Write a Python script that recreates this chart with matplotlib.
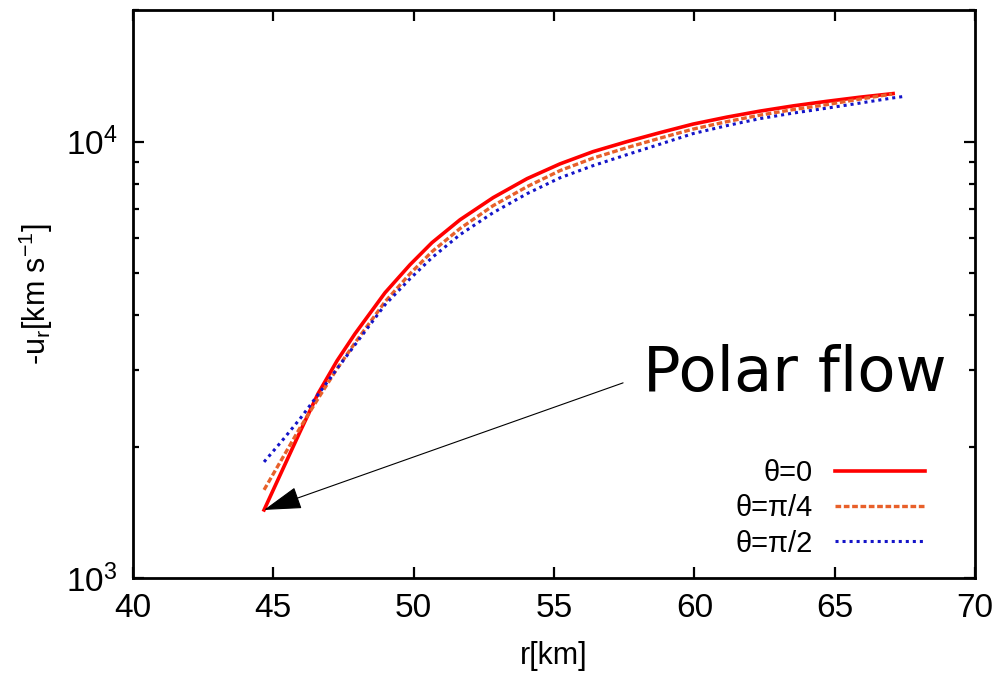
import matplotlib
matplotlib.use('Agg')
import matplotlib.pyplot as plt
from matplotlib.ticker import LogLocator, NullFormatter, MultipleLocator

plt.rcParams['font.family'] = ['Liberation Sans', 'DejaVu Sans']
plt.rcParams['mathtext.fontset'] = 'custom'
plt.rcParams['mathtext.rm'] = 'Liberation Sans'
plt.rcParams['mathtext.it'] = 'Liberation Sans'
plt.rcParams['mathtext.default'] = 'regular'

# radial infall velocity vs radius for three polar angles
r_0 = [44.67, 45.31, 45.95, 46.59, 47.27, 47.91, 48.98, 49.87, 50.65, 51.65,
       52.83, 54.04, 55.21, 56.39, 57.60, 58.78, 59.95, 61.16, 62.34, 63.52,
       64.73, 65.90, 67.08]
u_0 = [1432, 1760, 2162, 2643, 3146, 3628, 4505, 5223, 5866, 6620,
       7440, 8225, 8890, 9485, 10000, 10487, 10968, 11381, 11748, 12075,
       12372, 12642, 12885]

r_45 = [44.67, 45.31, 45.95, 46.59, 47.27, 47.91, 48.98, 49.87, 50.65, 51.65,
        52.83, 54.04, 55.21, 56.39, 57.60, 58.78, 59.95, 61.16, 62.34, 63.52,
        64.73, 65.90, 67.04]
u_45 = [1592, 1875, 2208, 2574, 3016, 3459, 4296, 4980, 5594, 6320,
        7132, 7885, 8580, 9166, 9688, 10187, 10682, 11113, 11502, 11841,
        12158, 12516, 12851]

r_90 = [44.67, 45.31, 45.95, 46.59, 47.27, 47.91, 48.98, 49.87, 50.65, 51.65,
        52.83, 54.04, 55.21, 56.39, 57.60, 58.78, 59.95, 61.16, 62.34, 63.52,
        64.73, 65.90, 67.08, 67.51]
u_90 = [1845, 2062, 2316, 2629, 3016, 3423, 4228, 4850, 5419, 6120,
        6873, 7599, 8260, 8809, 9336, 9869, 10432, 10882, 11292, 11625,
        11935, 12255, 12596, 12703]

labels = ['θ=0', 'θ=π/4', 'θ=π/2']

fig = plt.figure(figsize=(9.96, 6.84), dpi=100)
ax = fig.add_axes([0.1335, 0.155, 0.8455, 0.830])

ax.plot(r_0, u_0, color='#ff0000', lw=2.6, solid_joinstyle='round', label=labels[0])
ax.plot(r_45, u_45, color='#e8602a', lw=2.4, dashes=(1.7, 0.8), label=labels[1])
ax.plot(r_90, u_90, color='#1414c8', lw=2.2, dashes=(1.0, 1.3), label=labels[2])

ax.set_yscale('log')
ax.set_xlim(40, 70)
ax.set_ylim(1000, 20000)
ax.xaxis.set_major_locator(MultipleLocator(5))
ax.yaxis.set_major_locator(LogLocator(base=10))
ax.yaxis.set_minor_locator(LogLocator(base=10, subs=range(2, 10)))
ax.yaxis.set_minor_formatter(NullFormatter())

ax.tick_params(which='both', direction='in', top=True, right=True, width=1.6)
ax.tick_params(which='major', length=8, labelsize=24, pad=11)
ax.tick_params(which='minor', length=4.5)
for s in ax.spines.values():
    s.set_linewidth(2.0)

ax.set_xlabel('r[km]', fontsize=22, labelpad=12)
ax.set_ylabel(r'-u$_{r}$[km s$^{-1}$]', fontsize=22, labelpad=8)

# arrow to the inner edge of the polar profile
ax.annotate('', xy=(r_0[0], u_0[0]), xytext=(57.46, 2800),
            arrowprops=dict(arrowstyle='-|>,head_length=1.2,head_width=0.36',
                            mutation_scale=20, color='black', lw=0.8,
                            shrinkA=0, shrinkB=0))
ax.text(58.17, 2689, 'Polar flow', fontsize=45, family='DejaVu Sans',
        va='baseline', ha='left')

ax.legend(loc='lower right', frameon=False, markerfirst=False, fontsize=21,
          handlelength=3.1, handletextpad=0.75, labelspacing=0.25,
          borderaxespad=0.3, bbox_to_anchor=(0.965, 0.0))

fig.savefig('out.png', dpi=100)
